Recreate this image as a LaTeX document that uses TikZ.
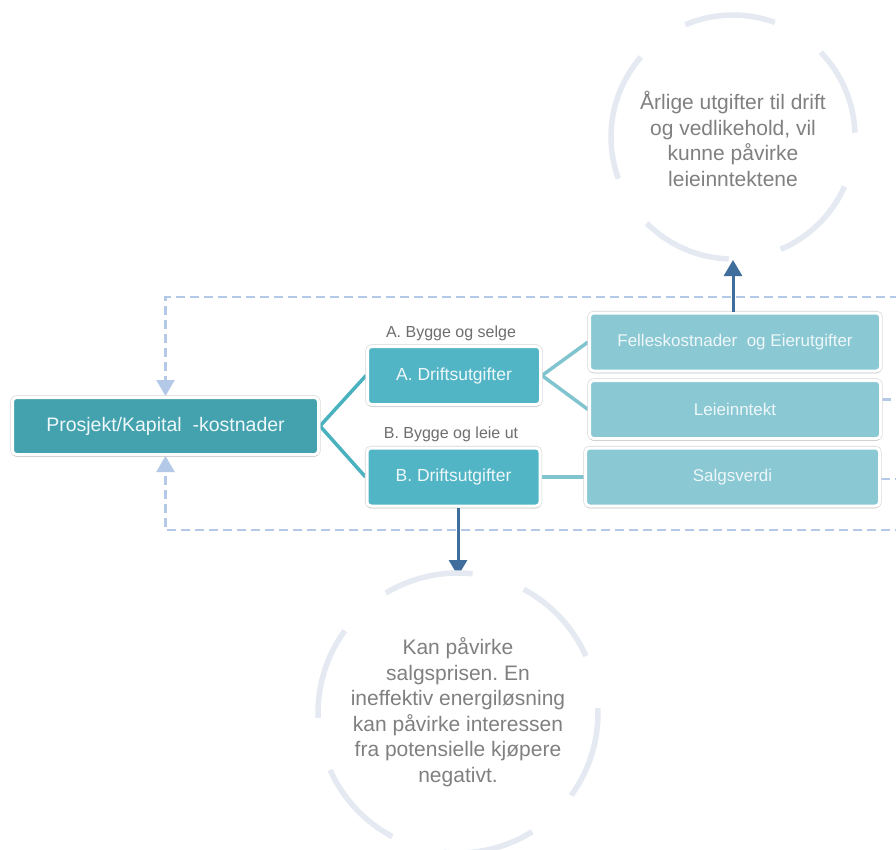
\documentclass[tikz,border=0pt]{standalone}
\usepackage{fontspec}
\setmainfont{Liberation Sans}
\usetikzlibrary{arrows.meta,shadows,calc}
\definecolor{mainfill}{HTML}{43A2AE}
\definecolor{abfill}{HTML}{52B5C5}
\definecolor{rfill}{HTML}{8AC8D3}
\definecolor{boxtext}{HTML}{EEF7F9}
\definecolor{linkA}{HTML}{4AB2BF}
\definecolor{linkB}{HTML}{80C4D0}
\definecolor{dashc}{HTML}{B4C9E7}
\definecolor{darkc}{HTML}{3F6E9D}
\definecolor{ringc}{HTML}{E4E9F2}
\definecolor{labelc}{HTML}{6E6E6E}
\definecolor{circtext}{HTML}{808080}
\pgfdeclarelayer{bg}
\pgfsetlayers{bg,main}
\frenchspacing
\begin{document}
\begin{tikzpicture}[x=1pt,y=-1pt,
  box/.style={rounded corners=4pt, draw=white, line width=3pt,
    preaction={draw=black!16, line width=4.2pt},
    drop shadow={shadow xshift=0pt, shadow yshift=-2.5pt, opacity=0.10, fill=black},
    text=boxtext, inner sep=0pt, align=center},
  mainbox/.style={box, fill=mainfill, minimum width=306pt, minimum height=57pt,
    font=\fontsize{19.5}{22}\selectfont},
  drvbox/.style={box, fill=abfill, minimum width=173pt, minimum height=58pt,
    font=\fontsize{17.5}{20}\selectfont},
  resbox/.style={box, fill=rfill, minimum height=58pt,
    font=\fontsize{17}{20}\selectfont},
  grplabel/.style={text=labelc, font=\fontsize{16}{18}\selectfont, inner sep=0pt},
  linkmain/.style={draw=linkA, line width=3.5pt},
  linkres/.style={draw=linkB, line width=3.5pt},
  loopline/.style={draw=dashc, line width=2.4pt, dash pattern=on 9pt off 5pt,
    -{Triangle[width=18pt,length=16pt]}},
  darrow/.style={draw=darkc, line width=3pt, -{Triangle[width=18pt,length=16pt]}},
  ring/.style={draw=ringc, line width=5.5pt},
  ringtext/.style={text=circtext, align=center, inner sep=0pt,
    font=\fontsize{21}{25.5}\selectfont}
]
\useasboundingbox (0,0) rectangle (896,850);
\clip (0,0) rectangle (896,850);

% boxes
\node[mainbox] (main) at (165.5,426) {Prosjekt/Kapital\ \ -kostnader};
\node[drvbox] (adrift) at (454,375.5) {A. Driftsutgifter};
\node[drvbox] (bdrift) at (453.5,477) {B. Driftsutgifter};
\node[resbox, minimum width=291pt] (felles) at (735,342) {Felleskostnader\ \ og Eierutgifter};
\node[resbox, minimum width=291pt] (leie) at (735,409.5) {Leieinntekt};
\node[resbox, minimum width=294pt] (salg) at (732.5,477) {Salgsverdi};

% group labels
\node[grplabel] (alab) at (451,333) {A. Bygge og selge};
\node[grplabel] (blab) at (451,434.5) {B. Bygge og leie ut};

% circle centres and arrow tips
\coordinate (ctop) at (733,137);
\coordinate (cbot) at (458,713);
\coordinate (toptip) at (733,260);
\coordinate (bottip) at (458,576);

% background and tree connectors
\begin{pgfonlayer}{bg}
  \fill[white] (0,0) rectangle (896,850);
  \draw[linkmain] (main.east) -- (adrift.west);
  \draw[linkmain] (main.east) -- (bdrift.west);
  \draw[linkres] (adrift.east) -- (felles.west);
  \draw[linkres] (adrift.east) -- (leie.west);
  \draw[linkres] (bdrift.east) -- (salg.west);
  % feedback loops back to the project costs
  \draw[loopline] ([yshift=10pt]leie.east) -- (930,399.5) -- (930,297)
    -- (main.north |- 0,297) -- (main.north);
  \draw[loopline] ([yshift=-2pt]salg.east) -- (930,479) -- (930,530)
    -- (main.south |- 0,530) -- (main.south);
\end{pgfonlayer}

% arrows to the comment circles
\draw[darrow] (felles.north -| toptip) -- (toptip);
\draw[darrow] (bdrift.south -| bottip) -- (bottip);

% upper comment ring
\foreach \a/\b in {70/113, 2/44, -67/-24, -135/-92, 139/200}
  \draw[ring] (ctop) ++(-\a:122) arc[start angle=-\a, end angle=-\b, radius=122];
\node[ringtext] (toptext) at (733,139) {Årlige utgifter til drift\\og vedlikehold, vil\\kunne påvirke\\leieinntektene};

% lower comment ring
\foreach \a/\b in {84/121, 24/62, -36/2, -96/-58, 204/242, 144/182}
  \draw[ring] (cbot) ++(-\a:140) arc[start angle=-\a, end angle=-\b, radius=140];
\node[ringtext] (bottext) at (458,712) {Kan påvirke\\salgsprisen. En\\ineffektiv energiløsning\\kan påvirke interessen\\fra potensielle kjøpere\\negativt.};
\end{tikzpicture}
\end{document}
